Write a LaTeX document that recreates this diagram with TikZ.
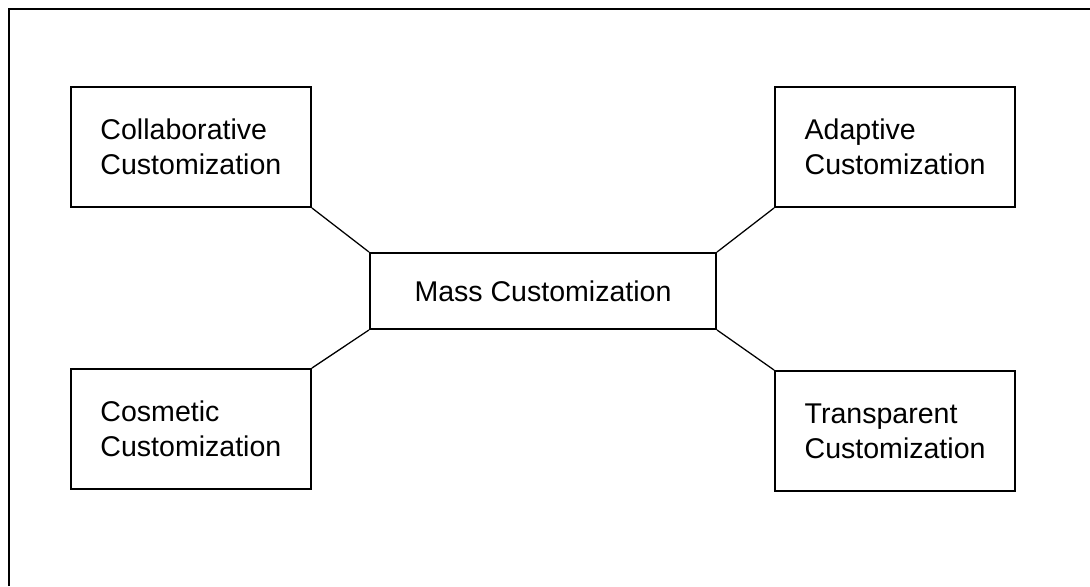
\documentclass[tikz,border=0pt]{standalone}
\usepackage{fontspec}
\setmainfont{Liberation Sans}
\usetikzlibrary{positioning}

\begin{document}
\begin{tikzpicture}[x=0.025cm,y=-0.025cm,on grid]
  \tikzstyle{box}=[rectangle,draw=black,line width=1.4pt,align=left,
                   minimum width=6cm,minimum height=3cm,
                   font=\fontsize{20.3pt}{24.9pt}\selectfont]
  \tikzstyle{main box}=[box,minimum width=8.65cm,minimum height=1.9cm]
  \tikzstyle{link}=[line width=0.9pt]

  \useasboundingbox (0,0) rectangle (1090,586);
  \draw [line width=1.8pt] (9,586) -- (9,9) -- (1090,9);

  \node [main box] (mass) at (543,291) {Mass Customization};
  \node [box] (collab) [above left=3.6cm and 8.8cm of mass] {Collaborative\\Customization};
  \node [box] (adapt) [above right=3.6cm and 8.8cm of mass] {Adaptive\\Customization};
  \node [box] (cosm) [below left=3.45cm and 8.8cm of mass] {Cosmetic\\Customization};
  \node [box] (transp) [below right=3.5cm and 8.8cm of mass] {Transparent\\Customization};

  \draw [link] (collab.south east) -- (mass.north west);
  \draw [link] (adapt.south west) -- (mass.north east);
  \draw [link] (cosm.north east) -- (mass.south west);
  \draw [link] (transp.north west) -- (mass.south east);
\end{tikzpicture}
\end{document}
